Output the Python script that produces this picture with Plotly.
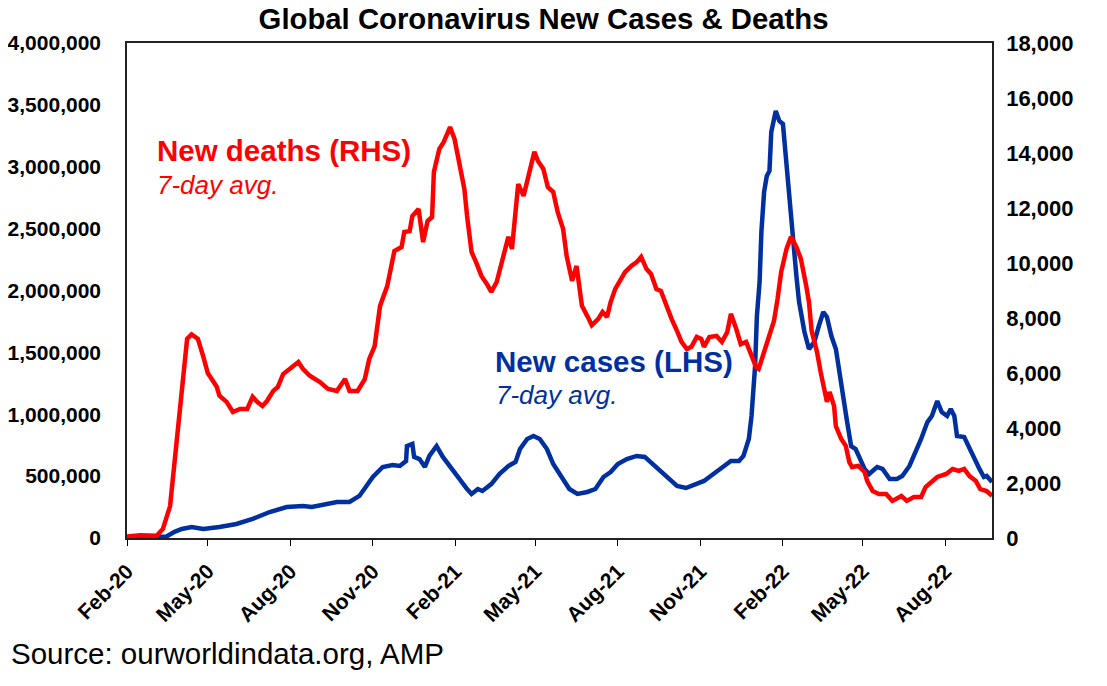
import plotly.graph_objects as go

# ─── Data ───────────────────────────────────────────────────────────────────
# New deaths, 7-day avg (right axis)
death_dates = [
    "2020-02-01", "2020-02-16", "2020-03-05", "2020-03-12", "2020-03-20", "2020-03-28",
    "2020-04-02", "2020-04-08", "2020-04-13", "2020-04-20", "2020-04-26", "2020-05-01",
    "2020-05-11", "2020-05-14", "2020-05-22", "2020-05-29", "2020-06-06", "2020-06-14",
    "2020-06-20", "2020-06-25", "2020-07-01", "2020-07-06", "2020-07-13", "2020-07-18",
    "2020-07-24", "2020-08-01", "2020-08-10", "2020-08-15", "2020-08-23", "2020-09-03",
    "2020-09-12", "2020-09-22", "2020-10-01", "2020-10-06", "2020-10-15", "2020-10-23",
    "2020-10-28", "2020-11-03", "2020-11-09", "2020-11-17", "2020-11-22", "2020-11-25",
    "2020-12-03", "2020-12-06", "2020-12-12", "2020-12-15", "2020-12-22", "2020-12-27",
    "2021-01-01", "2021-01-06", "2021-01-08", "2021-01-14", "2021-01-19", "2021-01-26",
    "2021-01-31", "2021-02-06", "2021-02-11", "2021-02-14", "2021-02-19", "2021-02-24",
    "2021-03-02", "2021-03-08", "2021-03-13", "2021-03-19", "2021-03-25", "2021-03-28",
    "2021-04-01", "2021-04-05", "2021-04-09", "2021-04-12", "2021-04-18", "2021-04-23",
    "2021-04-30", "2021-05-04", "2021-05-10", "2021-05-15", "2021-05-21", "2021-05-26",
    "2021-06-01", "2021-06-05", "2021-06-11", "2021-06-16", "2021-06-22", "2021-06-28",
    "2021-07-03", "2021-07-10", "2021-07-15", "2021-07-20", "2021-07-24", "2021-07-29",
    "2021-08-03", "2021-08-09", "2021-08-16", "2021-08-22", "2021-08-27", "2021-09-02",
    "2021-09-07", "2021-09-13", "2021-09-18", "2021-09-24", "2021-09-30", "2021-10-05",
    "2021-10-11", "2021-10-17", "2021-10-22", "2021-10-28", "2021-11-02", "2021-11-05",
    "2021-11-11", "2021-11-19", "2021-11-25", "2021-12-01", "2021-12-05", "2021-12-11",
    "2021-12-16", "2021-12-22", "2021-12-28", "2022-01-02", "2022-01-05", "2022-01-11",
    "2022-01-17", "2022-01-22", "2022-01-26", "2022-01-30", "2022-02-05", "2022-02-10",
    "2022-02-16", "2022-02-21", "2022-02-27", "2022-03-02", "2022-03-05", "2022-03-11",
    "2022-03-15", "2022-03-19", "2022-03-22", "2022-03-25", "2022-03-30", "2022-04-01",
    "2022-04-07", "2022-04-12", "2022-04-16", "2022-04-19", "2022-04-26", "2022-05-03",
    "2022-05-06", "2022-05-12", "2022-05-19", "2022-05-27", "2022-06-03", "2022-06-13",
    "2022-06-19", "2022-06-27", "2022-07-05", "2022-07-10", "2022-07-17", "2022-07-23",
    "2022-08-02", "2022-08-09", "2022-08-16", "2022-08-22", "2022-08-28", "2022-09-04",
    "2022-09-09", "2022-09-16", "2022-09-22",
]
deaths = [
    50, 100, 80, 330, 1160, 3600,
    5400, 7240, 7400, 7240, 6600, 6000,
    5500, 5170, 4950, 4580, 4690, 4690,
    5130, 4950, 4800, 4980, 5350, 5490,
    5960, 6150, 6400, 6150, 5890, 5670,
    5420, 5350, 5780, 5350, 5350, 5780,
    6510, 6980, 8440, 9160, 10030, 10440,
    10580, 11130, 11160, 11710, 11960, 10760,
    11530, 11670, 13310, 14140, 14400, 14940,
    14510, 13420, 12690, 11710, 10400, 10030,
    9530, 9240, 8950, 9310, 10030, 10510,
    10950, 10510, 11960, 12870, 12440, 13160,
    14040, 13710, 13420, 12760, 12580, 11850,
    11240, 10250, 9350, 9890, 8440, 8070,
    7740, 7960, 8220, 8040, 8580, 9050,
    9310, 9670, 9890, 10030, 10220, 9780,
    9600, 9050, 8980, 8440, 7960, 7600,
    7130, 6870, 6950, 7310, 7240, 6950,
    7310, 7350, 7130, 7490, 8150, 7600,
    7050, 7130, 6580, 6220, 6150, 6760,
    7420, 7890, 8690, 9670, 10510, 10950,
    10580, 10150, 9160, 8580, 7530, 6760,
    6040, 5420, 4950, 5310, 4800, 4070,
    3600, 3350, 2760, 2580, 2620, 2400,
    2070, 1710, 1600, 1600, 1350, 1530,
    1350, 1490, 1490, 1850, 2040, 2220,
    2330, 2510, 2440, 2510, 2250, 2070,
    1780, 1710, 1530,
]

# New cases, 7-day avg (left axis)
case_dates = [
    "2020-02-01", "2020-02-15", "2020-03-01", "2020-03-10", "2020-03-16", "2020-03-25",
    "2020-04-02", "2020-04-13", "2020-04-26", "2020-05-14", "2020-06-02", "2020-06-20",
    "2020-07-09", "2020-07-28", "2020-08-15", "2020-08-25", "2020-09-06", "2020-09-22",
    "2020-10-06", "2020-10-17", "2020-11-01", "2020-11-12", "2020-11-23", "2020-12-01",
    "2020-12-08", "2020-12-09", "2020-12-15", "2020-12-17", "2020-12-23", "2020-12-29",
    "2021-01-03", "2021-01-11", "2021-01-18", "2021-01-28", "2021-02-06", "2021-02-14",
    "2021-02-19", "2021-02-26", "2021-03-03", "2021-03-13", "2021-03-22", "2021-04-01",
    "2021-04-09", "2021-04-14", "2021-04-22", "2021-04-29", "2021-05-06", "2021-05-14",
    "2021-05-21", "2021-05-26", "2021-06-01", "2021-06-08", "2021-06-17", "2021-06-28",
    "2021-07-07", "2021-07-16", "2021-07-24", "2021-08-01", "2021-08-11", "2021-08-22",
    "2021-08-31", "2021-09-09", "2021-09-18", "2021-09-27", "2021-10-06", "2021-10-16",
    "2021-10-28", "2021-11-05", "2021-11-11", "2021-11-20", "2021-11-28", "2021-12-05",
    "2021-12-14", "2021-12-19", "2021-12-25", "2021-12-28", "2022-01-01", "2022-01-03",
    "2022-01-06", "2022-01-08", "2022-01-11", "2022-01-14", "2022-01-17", "2022-01-19",
    "2022-01-24", "2022-01-28", "2022-02-01", "2022-02-05", "2022-02-09", "2022-02-12",
    "2022-02-16", "2022-02-19", "2022-02-25", "2022-03-02", "2022-03-08", "2022-03-13",
    "2022-03-18", "2022-03-22", "2022-03-27", "2022-04-01", "2022-04-05", "2022-04-08",
    "2022-04-13", "2022-04-18", "2022-04-23", "2022-04-27", "2022-05-03", "2022-05-08",
    "2022-05-17", "2022-05-23", "2022-05-31", "2022-06-08", "2022-06-14", "2022-06-22",
    "2022-06-27", "2022-07-05", "2022-07-12", "2022-07-17", "2022-07-23", "2022-07-28",
    "2022-08-03", "2022-08-07", "2022-08-11", "2022-08-14", "2022-08-22", "2022-08-28",
    "2022-09-02", "2022-09-08", "2022-09-13", "2022-09-16", "2022-09-22",
]
cases = [
    2000, 3000, 2000, 5000, 12000, 50000,
    73000, 89000, 73000, 89000, 113000, 154000,
    210000, 250000, 259000, 250000, 267000, 291000,
    291000, 340000, 493000, 574000, 590000, 582000,
    622000, 743000, 760000, 655000, 638000, 574000,
    663000, 743000, 655000, 558000, 461000, 396000,
    356000, 396000, 380000, 436000, 517000, 582000,
    614000, 719000, 800000, 824000, 800000, 719000,
    598000, 541000, 477000, 396000, 356000, 372000,
    396000, 493000, 533000, 598000, 638000, 663000,
    655000, 598000, 541000, 477000, 420000, 404000,
    436000, 461000, 493000, 541000, 574000, 622000,
    622000, 663000, 800000, 986000, 1390000, 1794000,
    2069000, 2473000, 2796000, 2925000, 2966000, 3281000,
    3451000, 3370000, 3346000, 3006000, 2659000, 2392000,
    2117000, 1907000, 1665000, 1527000, 1584000, 1713000,
    1826000, 1786000, 1632000, 1527000, 1341000, 1148000,
    962000, 743000, 719000, 655000, 558000, 517000,
    574000, 558000, 477000, 477000, 501000, 582000,
    663000, 800000, 937000, 986000, 1107000, 1018000,
    986000, 1042000, 986000, 824000, 816000, 719000,
    638000, 558000, 493000, 501000, 453000,
]

X_RANGE = ["2020-02-01", "2022-09-22"]

RED = "#FF0000"
BLUE = "#0030A0"
FONT = "Liberation Sans, Arial, sans-serif"

fig = go.Figure()

fig.add_trace(go.Scatter(
    x=case_dates, y=cases, mode="lines", name="New cases (LHS)",
    line=dict(color=BLUE, width=4.5), yaxis="y",
))
fig.add_trace(go.Scatter(
    x=death_dates, y=deaths, mode="lines", name="New deaths (RHS)",
    line=dict(color=RED, width=4.5), yaxis="y2",
))

# page body has an 8px default margin, so the figure is sized a bit smaller
fig.update_layout(
    width=1099, height=678,
    margin=dict(l=118.5, r=114.5, t=35, b=148),
    paper_bgcolor="white", plot_bgcolor="white",
    showlegend=False,
    font=dict(family=FONT, color="black"),
    title=dict(
        text="<b>Global Coronavirus New Cases & Deaths</b>",
        font=dict(size=29.3, family=FONT),
        x=0.4873, xref="container", xanchor="center",
        y=1.0, yref="container", yanchor="top",
        pad=dict(t=0, b=0),
    ),
    xaxis=dict(
        type="date", range=X_RANGE, automargin=False,
        tick0="2020-02-01", dtick="M3", tickformat="%b-%y",
        tickangle=-45, ticks="outside", ticklen=6, tickcolor="black",
        ticklabelstandoff=5,
        tickfont=dict(size=21, family=FONT, weight="bold"),
        showline=True, linecolor="#222", linewidth=1.5, mirror=True,
        showgrid=False, zeroline=False,
    ),
    yaxis=dict(
        range=[0, 4000000], dtick=500000, tickformat=",", automargin=False,
        ticks="", ticklabelstandoff=20,
        tickfont=dict(size=21, family=FONT, weight="bold"),
        showline=True, linecolor="#222", linewidth=1.5,
        showgrid=False, zeroline=False,
    ),
    yaxis2=dict(
        range=[0, 18000], dtick=2000, tickformat=",", automargin=False,
        overlaying="y", side="right",
        ticks="", ticklabelstandoff=8,
        tickfont=dict(size=22, family=FONT, weight="bold"),
        showline=True, linecolor="#222", linewidth=1.5,
        showgrid=False, zeroline=False,
    ),
)

# ── In-chart labels ─────────────────────────────────────────────────────────
labels = [
    ("<b>New deaths (RHS)</b>", RED, 29.5, "normal", 0.033, 0.782),
    ("7-day avg.", RED, 26, "italic", 0.033, 0.713),
    ("<b>New cases (LHS)</b>", BLUE, 29.5, "normal", 0.424, 0.356),
    ("7-day avg.", BLUE, 26, "italic", 0.425, 0.289),
]
for text, color, size, style, ax, ay in labels:
    fig.add_annotation(
        text=text, xref="paper", yref="paper", x=ax, y=ay,
        xanchor="left", yanchor="middle", showarrow=False, borderpad=0,
        font=dict(size=size, color=color, family=FONT, style=style),
    )

fig.add_annotation(
    text="Source: ourworldindata.org, AMP",
    xref="paper", yref="paper", x=-0.1365, y=-0.234,
    xanchor="left", yanchor="middle", showarrow=False,
    font=dict(size=29.5, color="black", family=FONT),
)

fig.write_html("out.html")
